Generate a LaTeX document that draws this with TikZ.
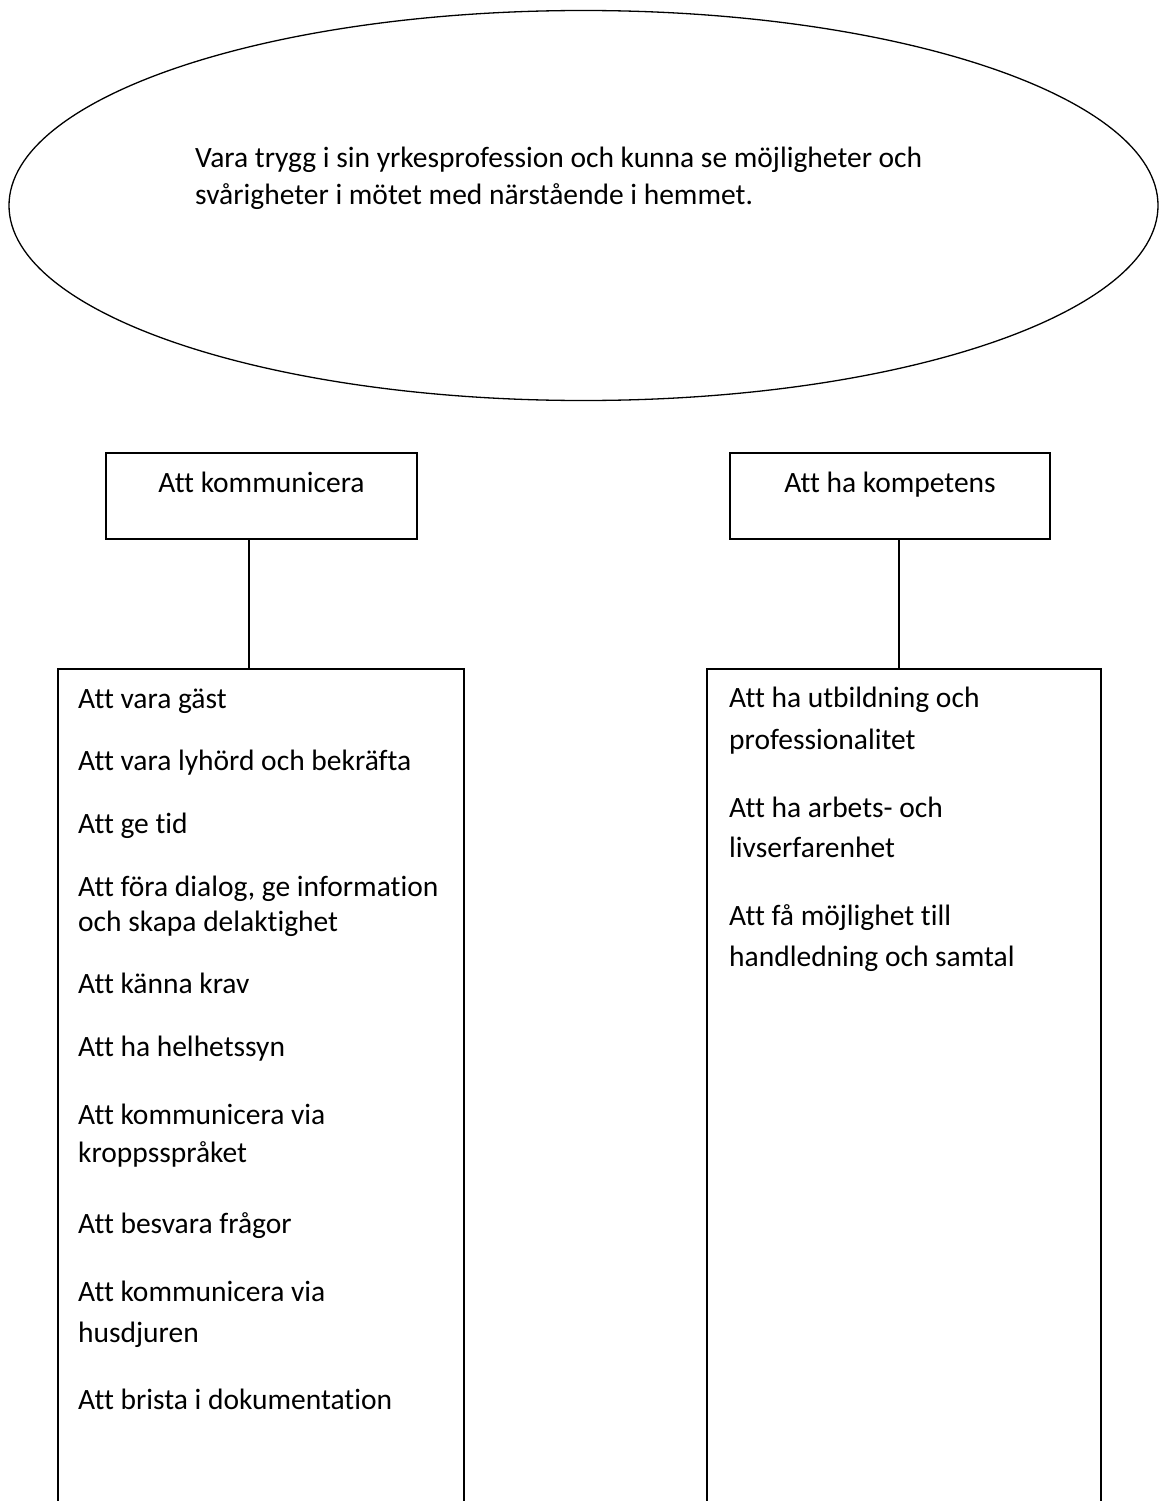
\documentclass[tikz,border=0pt]{standalone}
\usepackage{fontspec}
\setmainfont{Carlito}[Ligatures=CommonOff]
\usepackage{tikz}
\usetikzlibrary{positioning,shapes.geometric,calc}

\begin{document}
\begin{tikzpicture}[x=1pt,y=-1pt,
  goal/.style={ellipse,draw,line width=1.3pt,minimum width=1149pt,minimum height=390pt,inner sep=0pt},
  headbox/.style={rectangle,draw,line width=1.3pt,inner sep=0pt},
  listbox/.style={draw,line width=1.3pt},
  txt/.style={inner sep=0pt,font=\fontsize{29.5}{37}\selectfont},
  item/.style={txt,anchor=base west,align=left},
  line/.style={line width=1.3pt}]
\useasboundingbox (0,0) rectangle (1161,1501);
\clip (0,0) rectangle (1161,1501);
% overall theme in the ellipse (multi-line items sit on their last baseline)
\node[goal] (goal) at (583.5,205.5) {};
\node[item] (goaltxt) at (195,204) {Vara trygg i sin yrkesprofession och kunna se möjligheter och\\svårigheter i mötet med närstående i hemmet.};
% the two categories
\node[headbox,minimum width=311pt,minimum height=86pt] (komm) at (261.5,496) {};
\node[txt,anchor=base] (kommtxt) at (261.5,492) {Att kommunicera};
\node[headbox,minimum width=320pt,minimum height=86pt] (komp) at (890,496) {};
\node[txt,anchor=base] (komptxt) at (890,492) {Att ha kompetens};
% subcategory columns, running off the bottom of the page
\coordinate (kl) at (58,669);
\coordinate (kr) at (464,669);
\coordinate (pl) at (707,669);
\coordinate (pr) at (1101,669);
\draw[listbox] (kl |- 0,1520) -- (kl) -- (kr) -- (kr |- 0,1520);
\draw[listbox] (pl |- 0,1520) -- (pl) -- (pr) -- (pr |- 0,1520);
\draw[line] ([xshift=-12.5pt]komm.south) -- ([xshift=-12.5pt]komm.south |- kl);
\draw[line] ([xshift=9pt]komp.south) -- ([xshift=9pt]komp.south |- pl);
% left column
\node[item] (k1) at (78,708) {Att vara gäst};
\node[item] (k2) at (78,770) {Att vara lyhörd och bekräfta};
\node[item] (k3) at (78,833) {Att ge tid};
\node[item] (k4) at (78,931) {Att föra dialog, ge information\\[-2pt]och skapa delaktighet};
\node[item] (k5) at (78,993) {Att känna krav};
\node[item] (k6) at (78,1056) {Att ha helhetssyn};
\node[item] (k7) at (78,1162) {Att kommunicera via\\[1pt]kroppsspråket};
\node[item] (k8) at (78,1233) {Att besvara frågor};
\node[item] (k9) at (78,1342) {Att kommunicera via\\[4pt]husdjuren};
\node[item] (k10) at (78,1409) {Att brista i dokumentation};
% right column
\node[item] (p1) at (729,749) {Att ha utbildning och\\[5pt]professionalitet};
\node[item] (p2) at (729,857) {Att ha arbets- och\\[3pt]livserfarenhet};
\node[item] (p3) at (729,966) {Att få möjlighet till\\[4pt]handledning och samtal};
\end{tikzpicture}
\end{document}
